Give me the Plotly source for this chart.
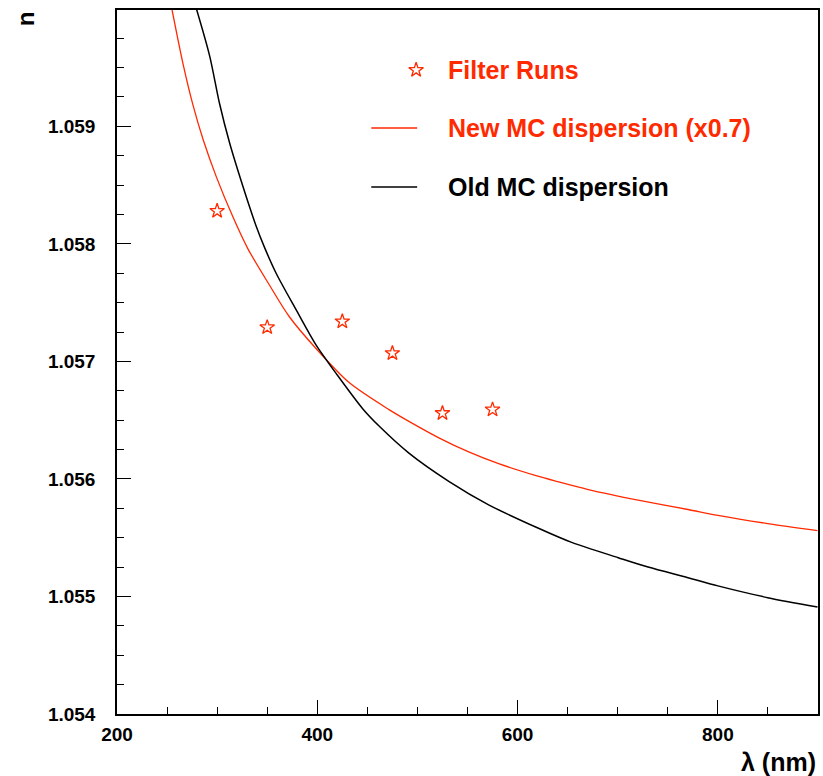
import plotly.graph_objects as go

# Data: filter run measurements
filter_wl = [300, 350, 425, 475, 525, 575]
filter_n = [1.05828, 1.05729, 1.05734, 1.05707, 1.05656, 1.05659]

# New MC dispersion (x0.7)
new_wl = [255.0, 266.0, 275.9, 285.9, 299.2, 315.7, 330.6, 352.2, 372.1, 398.7, 431.8,
          471.6, 491.5, 521.4, 551.2, 581.1, 617.6, 638.8, 670.6, 720.4, 770.1, 800.0,
          849.8, 899.5]
new_n = [1.05999, 1.05953, 1.05918, 1.05889, 1.05857, 1.05823, 1.05796, 1.05765, 1.05738,
         1.05711, 1.05682, 1.05659, 1.05649, 1.05635, 1.05623, 1.05613, 1.05603, 1.05598,
         1.05591, 1.05582, 1.05574, 1.05569, 1.05562, 1.05556]

# Old MC dispersion
old_wl = [279.3, 292.5, 302.5, 312.4, 325.7, 339.0, 347.3, 358.9, 378.8, 398.7, 418.6,
          445.1, 461.7, 491.5, 531.3, 571.1, 620.9, 654.0, 700.5, 730.3, 770.1, 800.0,
          849.8, 899.5]
old_n = [1.06000, 1.05960, 1.05919, 1.05886, 1.05849, 1.05815, 1.05797, 1.05775, 1.05744,
         1.05714, 1.05690, 1.05660, 1.05645, 1.05622, 1.05598, 1.05578, 1.05558, 1.05546,
         1.05533, 1.05525, 1.05516, 1.05509, 1.05499, 1.05491]

y_ticks = [1.054, 1.055, 1.056, 1.057, 1.058, 1.059]
x_ticks = [200, 400, 600, 800]

legend_labels = ["Filter Runs", "New MC dispersion (x0.7)", "Old MC dispersion"]

RED = "#ff2a00"
FONT = "Liberation Sans, Arial, Helvetica, sans-serif"

fig = go.Figure()
fig.add_trace(go.Scatter(x=new_wl, y=new_n, mode="lines",
                         line=dict(color=RED, width=1.3, shape="spline", smoothing=0.8),
                         showlegend=False))
fig.add_trace(go.Scatter(x=old_wl, y=old_n, mode="lines",
                         line=dict(color="black", width=1.5, shape="spline", smoothing=0.8),
                         showlegend=False))
fig.add_trace(go.Scatter(x=filter_wl, y=filter_n, mode="markers",
                         marker=dict(symbol="star-open", size=11, color=RED,
                                     line=dict(width=1.3, color=RED)),
                         showlegend=False))
# legend star swatch on a hidden overlay axis spanning the plot area
fig.add_trace(go.Scatter(x=[0.4267], y=[0.9148], mode="markers",
                         marker=dict(symbol="star-open", size=11, color=RED,
                                     line=dict(width=1.3, color=RED)),
                         xaxis="x2", yaxis="y2", showlegend=False, hoverinfo="skip"))

axis_common = dict(showgrid=False, zeroline=False, showline=True, linecolor="black",
                   linewidth=1.5, mirror=True, ticks="inside", ticklen=14,
                   tickcolor="black", tickwidth=1.2,
                   tickfont=dict(family=FONT, size=19, color="black", weight="bold"))

fig.update_layout(
    width=823, height=776,
    margin=dict(l=117, r=3, t=10, b=62),
    paper_bgcolor="white", plot_bgcolor="white",
    xaxis=dict(range=[200, 900], tickvals=x_ticks, ticklabelstandoff=2,
               minor=dict(dtick=50, ticks="inside", ticklen=7, tickcolor="black", tickwidth=1.2),
               **axis_common),
    yaxis=dict(range=[1.054, 1.05999], tickvals=y_ticks, tickformat=".3f",
               ticklabelstandoff=16,
               minor=dict(dtick=0.00025, ticks="inside", ticklen=7, tickcolor="black", tickwidth=1.2),
               **axis_common),
    xaxis2=dict(overlaying="x", range=[0, 1], visible=False),
    yaxis2=dict(overlaying="y", range=[0, 1], visible=False),
)

# legend line swatches
fig.add_shape(type="line", xref="paper", yref="paper", x0=0.3627, x1=0.4282,
              y0=0.8324, y1=0.8324, line=dict(color=RED, width=1.3))
fig.add_shape(type="line", xref="paper", yref="paper", x0=0.3627, x1=0.4282,
              y0=0.7486, y1=0.7486, line=dict(color="black", width=1.5))

leg_y = [0.9148, 0.8324, 0.7486]
leg_col = [RED, RED, "black"]
for txt, yy, col in zip(legend_labels, leg_y, leg_col):
    fig.add_annotation(text=txt, x=0.4694, y=yy, xref="paper", yref="paper",
                       xanchor="left", yanchor="middle", showarrow=False,
                       font=dict(family=FONT, size=25, color=col, weight="bold"))

# axis titles
fig.add_annotation(text="n", x=-0.131, y=0.987, xref="paper", yref="paper",
                   xanchor="center", yanchor="middle", showarrow=False, textangle=-90,
                   font=dict(family=FONT, size=24, color="black", weight="bold"))
fig.add_annotation(text="λ (nm)", x=1.0, y=-0.068, xref="paper", yref="paper",
                   xanchor="right", yanchor="middle", showarrow=False,
                   font=dict(family=FONT, size=25, color="black", weight="bold"))

fig.write_html("out.html")
